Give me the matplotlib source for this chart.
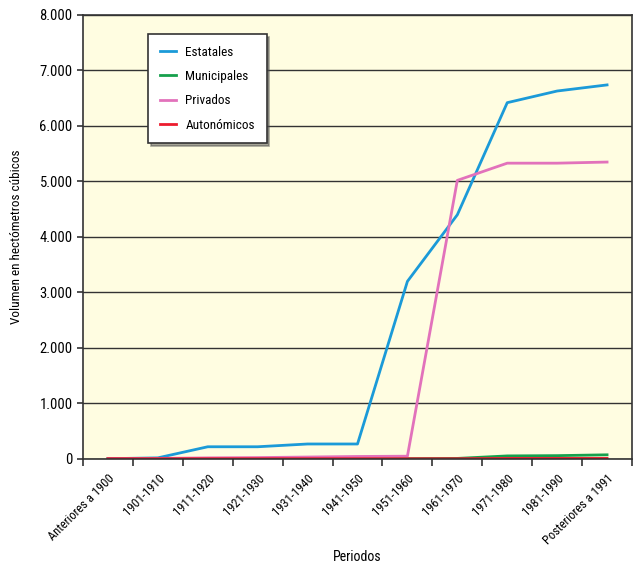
import numpy as np
import matplotlib.pyplot as plt
from matplotlib.ticker import FuncFormatter, FixedLocator

plt.rcParams["font.family"] = ["Roboto Condensed", "Liberation Sans Narrow", "DejaVu Sans"]

periodos = ["Anteriores a 1900", "1901-1910", "1911-1920", "1921-1930",
            "1931-1940", "1941-1950", "1951-1960", "1961-1970",
            "1971-1980", "1981-1990", "Posteriores a 1991"]

estatales = [5, 20, 220, 220, 270, 270, 3200, 4400, 6420, 6630, 6740]
municipales = [0, 0, 0, 0, 0, 0, 5, 10, 55, 60, 75]
privados = [5, 10, 20, 25, 35, 45, 50, 5020, 5330, 5330, 5350]
autonomicos = [5, 5, 5, 5, 5, 5, 5, 5, 10, 10, 10]

series = [
    ("Estatales", estatales, "#1b9ad8"),
    ("Municipales", municipales, "#16a04c"),
    ("Privados", privados, "#e272bb"),
    ("Autonómicos", autonomicos, "#ec1c2e"),
]

fig = plt.figure(figsize=(6.35, 5.72), dpi=100)
ax = fig.add_axes([0.1307, 0.1976, 0.8646, 0.7762])
ax.set_facecolor("#fffde1")

x = np.arange(len(periodos))
for name, vals, col in series:
    ax.plot(x, vals, color=col, linewidth=2.0, label=name)

ax.set_xlim(-0.5, len(periodos) - 0.5)
ax.set_ylim(0, 8000)
ax.set_yticks(np.arange(0, 8001, 1000))
ax.yaxis.set_major_formatter(FuncFormatter(lambda v, p: f"{int(v):,}".replace(",", ".")))
ax.yaxis.grid(True, color="#333333", linewidth=1.0)
ax.set_axisbelow(True)

ax.set_xticks(x)
ax.set_xticklabels(periodos, rotation=45, ha="right", rotation_mode="anchor", fontsize=9)
ax.tick_params(axis="x", which="major", length=0, pad=9)
ax.xaxis.set_minor_locator(FixedLocator(np.arange(-0.5, len(periodos), 1.0)))
ax.tick_params(axis="x", which="minor", length=5, width=1.2, color="#333333")
ax.tick_params(axis="y", length=4, width=1.2, color="#333333", labelsize=10.5)

for s in ax.spines.values():
    s.set_color("#333333")
    s.set_linewidth(1.2)

ax.set_xlabel("Periodos", fontsize=10, labelpad=2)
ax.set_ylabel("Volumen en hectómetros cúbicos", fontsize=9.5, labelpad=12)

leg = ax.legend(loc="upper left", bbox_to_anchor=(0.107, 0.972), frameon=True,
                fancybox=False, shadow=True, fontsize=9.5, handlelength=1.2,
                borderpad=0.9, labelspacing=0.85, handletextpad=0.7)
leg.get_frame().set_edgecolor("#333333")
leg.get_frame().set_linewidth(1.2)

fig.savefig("out.png", dpi=100)
